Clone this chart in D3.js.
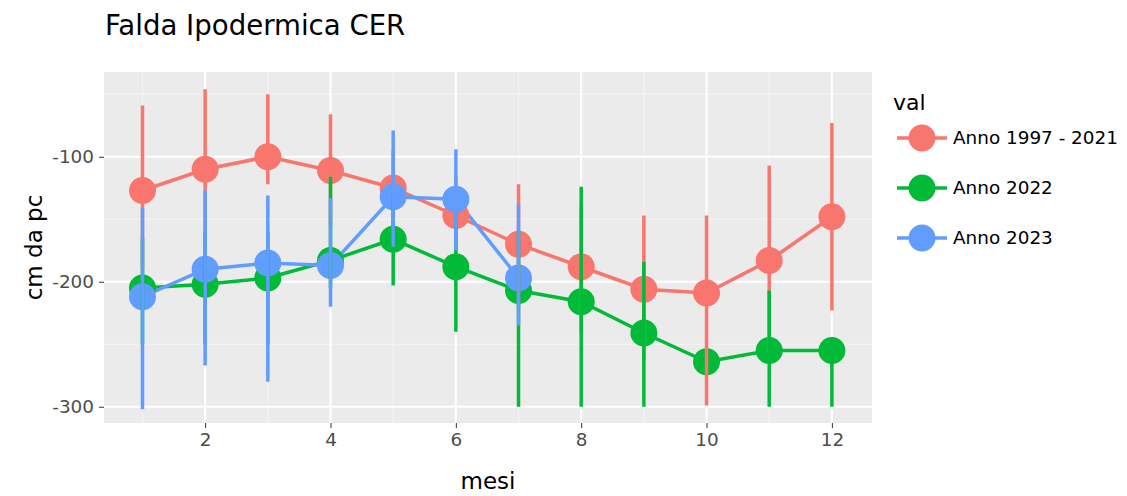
<!DOCTYPE html>
<html>
<head>
<meta charset="utf-8">
<script src="https://cdn.jsdelivr.net/npm/d3@7"></script>
<style>
  body { margin: 0; background: #fff; }
  text { font-family: "DejaVu Sans", sans-serif; }
</style>
</head>
<body>
<svg id="chart" width="1127" height="496"></svg>
<script>
// months on the x axis
var mesi = [1, 2, 3, 4, 5, 6, 7, 8, 9, 10, 11, 12];

// Anno 1997 - 2021 : mean and error bar ends
var storicoMedia = [-127, -110, -100, -111, -125, -147, -170, -188, -206, -209, -183, -148];
var storicoMin   = [-190, -175, -122, -155, -155, -178, -220, -240, -262, -299, -255, -223];
var storicoMax   = [-59, -46, -50, -66, -95, -115, -122, -140, -147, -147, -107, -73];

// Anno 2022
var a2022Media = [-205, -202, -197, -183, -166, -188, -207, -216, -241, -264, -255, -255];
var a2022Min   = [-250, -250, -250, -205, -203, -240, -300, -300, -300, null, -300, -300];
var a2022Max   = [-165, -160, -160, -116, -130, -140, -160, -124, -184, null, -207, -246];

// Anno 2023 (only first 7 months)
var a2023Media = [-212, -190, -185, -187, -132, -134, -197];
var a2023Min   = [-302, -267, -280, -220, -172, -175, -235];
var a2023Max   = [-141, -127, -131, -133, -79, -94, -138];

var serieNomi = ["Anno 1997 - 2021", "Anno 2022", "Anno 2023"];
var serieColori = ["#F8766D", "#00BA38", "#619CFF"];

var yTicks = [-100, -200, -300];
var xTicks = [2, 4, 6, 8, 10, 12];

//build the series list from the arrays
function buildSerie(media, lo, hi) {
    var pts = [];
    for (var i = 0; i < media.length; i++) {
        pts.push({ x: mesi[i], y: media[i], lo: lo[i], hi: hi[i] });
    }
    return pts;
}

var serie = [
    buildSerie(storicoMedia, storicoMin, storicoMax),
    buildSerie(a2022Media, a2022Min, a2022Max),
    buildSerie(a2023Media, a2023Min, a2023Max)
];

/* LAYOUT */
var panel = { left: 104, right: 872, top: 72, bottom: 423 };
var base = 23;

var svg = d3.select("#chart");

var x = d3.scaleLinear().domain([0.386, 12.64]).range([panel.left, panel.right]);
var y = d3.scaleLinear().domain([-313, -32.2]).range([panel.bottom, panel.top]);

// panel background
svg.append("rect")
    .attr("x", panel.left).attr("y", panel.top)
    .attr("width", panel.right - panel.left)
    .attr("height", panel.bottom - panel.top)
    .attr("fill", "#EBEBEB");

// minor grid
var grid = svg.append("g");
[-50, -150, -250].forEach(function (v) {
    grid.append("line")
        .attr("x1", panel.left).attr("x2", panel.right)
        .attr("y1", y(v)).attr("y2", y(v))
        .attr("stroke", "#F5F5F5").attr("stroke-width", 1);
});
[1, 3, 5, 7, 9, 11].forEach(function (v) {
    grid.append("line")
        .attr("x1", x(v)).attr("x2", x(v))
        .attr("y1", panel.top).attr("y2", panel.bottom)
        .attr("stroke", "#F5F5F5").attr("stroke-width", 1);
});
// major grid
yTicks.forEach(function (v) {
    grid.append("line")
        .attr("x1", panel.left).attr("x2", panel.right)
        .attr("y1", y(v)).attr("y2", y(v))
        .attr("stroke", "#FFFFFF").attr("stroke-width", 2);
});
xTicks.forEach(function (v) {
    grid.append("line")
        .attr("x1", x(v)).attr("x2", x(v))
        .attr("y1", panel.top).attr("y2", panel.bottom)
        .attr("stroke", "#FFFFFF").attr("stroke-width", 2);
});

/* AXES */
var plainFmt = function (d) { return String(d); };
var yAxis = svg.append("g")
    .attr("transform", "translate(" + panel.left + ",0)")
    .call(d3.axisLeft(y).tickValues(yTicks).tickFormat(plainFmt).tickSize(5).tickPadding(5));
var xAxis = svg.append("g")
    .attr("transform", "translate(0," + panel.bottom + ")")
    .call(d3.axisBottom(x).tickValues(xTicks).tickFormat(plainFmt).tickSize(5).tickPadding(5));

[yAxis, xAxis].forEach(function (ax) {
    ax.select(".domain").remove();
    ax.selectAll(".tick line").attr("stroke", "#333333");
    ax.selectAll(".tick text")
        .attr("fill", "#4D4D4D")
        .style("font-family", "DejaVu Sans")
        .style("font-size", (base * 0.8) + "px");
});

/* DATA LAYERS: lines, points, error bars */
var line = d3.line().x(function (d) { return x(d.x); }).y(function (d) { return y(d.y); });

serie.forEach(function (s, i) {
    svg.append("path")
        .datum(s)
        .attr("d", line)
        .attr("fill", "none")
        .attr("stroke", serieColori[i])
        .attr("stroke-width", 3.5);
});

serie.forEach(function (s, i) {
    svg.append("g").selectAll("circle")
        .data(s).enter()
        .append("circle")
        .attr("cx", function (d) { return x(d.x); })
        .attr("cy", function (d) { return y(d.y); })
        .attr("r", 13.5)
        .attr("fill", serieColori[i]);
});

serie.forEach(function (s, i) {
    svg.append("g").selectAll("line")
        .data(s.filter(function (d) { return d.lo !== null && d.hi !== null; })).enter()
        .append("line")
        .attr("x1", function (d) { return x(d.x); })
        .attr("x2", function (d) { return x(d.x); })
        .attr("y1", function (d) { return y(d.lo); })
        .attr("y2", function (d) { return y(d.hi); })
        .attr("stroke", serieColori[i])
        .attr("stroke-width", 3.5);
});

/* TITLES */
svg.append("text")
    .attr("x", 105).attr("y", 35)
    .style("font-size", (base * 1.2) + "px")
    .attr("fill", "#000")
    .text("Falda Ipodermica CER");

svg.append("text")
    .attr("x", (panel.left + panel.right) / 2).attr("y", 489)
    .attr("text-anchor", "middle")
    .style("font-size", base + "px")
    .attr("fill", "#000")
    .text("mesi");

svg.append("text")
    .attr("transform", "translate(42," + ((panel.top + panel.bottom) / 2) + ") rotate(-90)")
    .attr("text-anchor", "middle")
    .style("font-size", base + "px")
    .attr("fill", "#000")
    .text("cm da pc");

/* LEGEND */
var legend = svg.append("g");
legend.append("text")
    .attr("x", 893).attr("y", 110)
    .style("font-size", "22px")
    .attr("fill", "#000")
    .text("val");

serieNomi.forEach(function (nome, i) {
    var cy = 138 + i * 50;
    legend.append("line")
        .attr("x1", 897).attr("x2", 947)
        .attr("y1", cy).attr("y2", cy)
        .attr("stroke", serieColori[i]).attr("stroke-width", 3.5);
    legend.append("circle")
        .attr("cx", 922).attr("cy", cy).attr("r", 13.5)
        .attr("fill", serieColori[i]);
    legend.append("text")
        .attr("x", 953).attr("y", cy)
        .attr("dy", "0.35em")
        .style("font-size", (base * 0.8) + "px")
        .attr("fill", "#000")
        .text(nome);
});
</script>
</body>
</html>
